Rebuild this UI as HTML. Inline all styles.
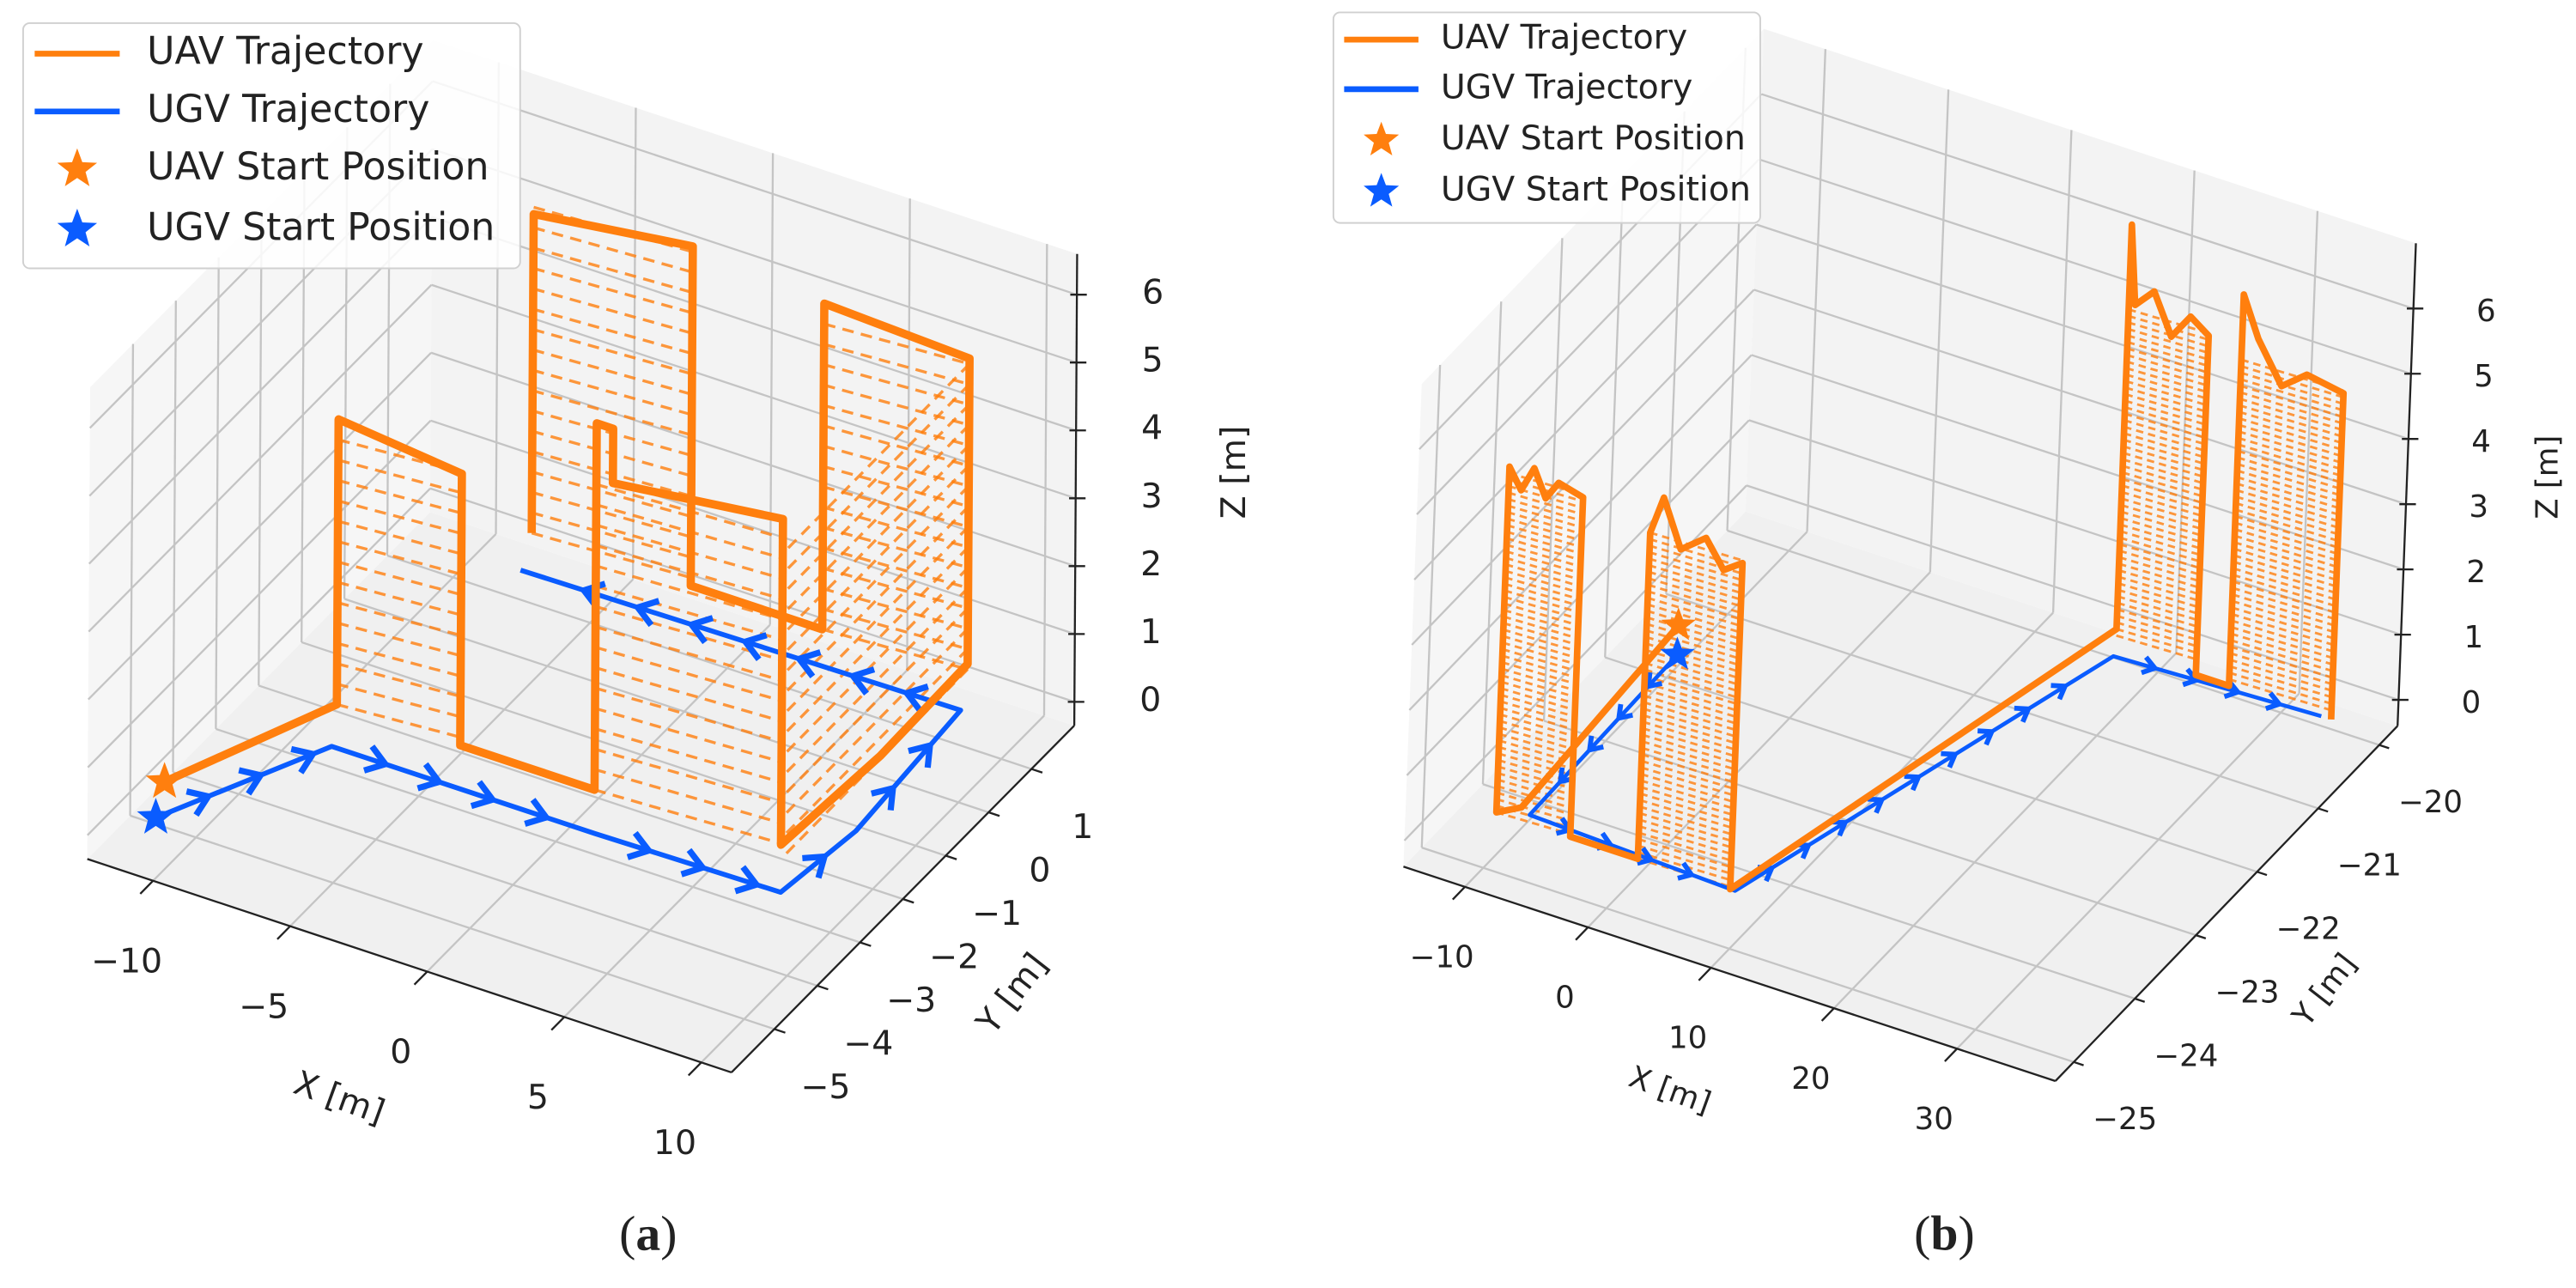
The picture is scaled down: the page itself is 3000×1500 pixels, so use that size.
<!DOCTYPE html>
<html><head><meta charset="utf-8">
<style>
html,body{margin:0;padding:0;background:#fff;}
body{width:3000px;height:1500px;overflow:hidden;position:relative;}
svg{position:absolute;top:0;}
text{font-family:"DejaVu Sans","Liberation Sans",sans-serif;fill:#222;}
</style></head>
<body>
<svg id="pa" style="left:0" width="1500" height="1500" viewBox="0 0 1560 1560" xmlns="http://www.w3.org/2000/svg"></svg>
<svg id="pb" style="left:1500px" width="1500" height="1500" viewBox="0 0 1560 1560" xmlns="http://www.w3.org/2000/svg"></svg>
<script>
// ---------- Panel A data ----------
const xTicksA = [-10, -5, 0, 5, 10];
const yTicksA = [-5, -4, -3, -2, -1, 0, 1];
const zTicksA = [0, 1, 2, 3, 4, 5, 6];
const ugvPathA = [[-11,-5.3,0],[-8.1,-3.05,0],[1.5,-3.05,0],[8.2,-3.0,0],[8.6,-1.5,0],[8.2,1.2,0],[-7.7,1.1,0]];
const uavPathA = [[-11,-5.1,0.4],[-8,-3,0.6],[-8,-3,4.8],[-3.5,-3,4.6],[-3.5,-3,0.6],[1.4,-3,0.6],[1.4,-3,6.0],[2.0,-3,6.0],[2.0,-3,5.2],[8.2,-3,5.5],[8.2,-3,0.7],[8.7,-1,0.8],[8.6,1.1,0.8],[8.6,1.1,5.3],[3.3,1.1,5.4],[3.3,1.1,0.6],[-1.5,1.1,0.6],[-1.5,1.1,5.6],[-7.3,1.1,5.3],[-7.3,1.1,0.6]];
const wallsA = [[-8,-3.5,-3,-3,0.6,4.7],[1.4,8.2,-3,-3,0.6,5.3],[3.3,8.6,1.1,1.1,0.6,5.3],[-7.3,-1.5,1.1,1.1,0.6,5.4],[8.4,8.6,-3,1.1,0.6,5.2]];
const uavStartA = [-11,-5.1,0.4];
const ugvStartA = [-11,-5.3,0];
// ---------- Panel B data ----------
const xTicksB = [-10, 0, 10, 20, 30];
const yTicksB = [-25, -24, -23, -22, -21, -20];
const zTicksB = [0, 1, 2, 3, 4, 5, 6];
const ugvPathB = [[-9.2,-22,0],[-8.8,-24.5,0],[8.4,-24.6,0],[17.8,-20.3,0],[34.2,-20.2,0]];
const uavPathB = [[-9.2,-22,0.45],[-9,-24.6,0.2],[-11,-24.6,0],[-11,-24.6,5.3],[-10,-24.6,5.0],[-9,-24.6,5.4],[-8,-24.6,5.0],[-7,-24.6,5.3],[-5,-24.6,5.2],[-5,-24.6,0],[0.5,-24.6,0],[0.5,-24.6,5.0],[1.5,-24.6,5.6],[3,-24.6,4.9],[5,-24.6,5.2],[6.5,-24.6,4.8],[8,-24.6,5.0],[8,-24.6,0],[17.5,-20.2,0.3],[17.5,-20.2,6.5],[18,-20.2,5.3],[19.5,-20.2,5.6],[21,-20.2,5.0],[22.5,-20.2,5.4],[24,-20.2,5.2],[24,-20.2,0],[26.7,-20.2,0],[26.7,-20.2,6.0],[28,-20.2,5.4],[30,-20.2,4.8],[32,-20.2,5.1],[35,-20.2,5.0],[35,-20.2,0]];
const wallsB = [[-11,-5,-24.6,-24.6,0,5.2],[0.5,8,-24.6,-24.6,0,5.0],[17.5,24,-20.2,-20.2,0.2,5.2],[26.7,35,-20.2,-20.2,0.1,5.0]];
const uavStartB = [-9.2,-22,0.45];
const ugvStartB = [-9.2,-22,0];

const NS = "http://www.w3.org/2000/svg";
function mk(svg, tag, attrs, name){
  const e = document.createElementNS(NS, tag);
  for (const k in attrs) e.setAttribute(k, attrs[k]);
  
  
  svg.appendChild(e); return e;
}
function starPts(cx, cy, r){
  let p=[];
  for(let i=0;i<10;i++){const a=-Math.PI/2+i*Math.PI/5;const rr=i%2?r*0.42:r;p.push((cx+rr*Math.cos(a)).toFixed(1)+','+(cy+rr*Math.sin(a)).toFixed(1));}
  return p.join(' ');
}
function drawPanel(svg, c){
  const P = (x,y,z)=>[c.o[0]+x*c.ex[0]+y*c.ey[0]+z*c.ez[0], c.o[1]+x*c.ex[1]+y*c.ey[1]+z*c.ez[1]];
  const [x0,x1]=c.xr,[y0,y1]=c.yr,[z0,z1]=c.zr;
  const poly=(pts)=>pts.map(p=>P(...p).map(v=>v.toFixed(1)).join(',')).join(' ');
  mk(svg,'polygon',{points:poly([[x0,y0,z0],[x1,y0,z0],[x1,y1,z0],[x0,y1,z0]]),fill:'#f0f0f0'},'floor-pane');
  mk(svg,'polygon',{points:poly([[x0,y0,z0],[x0,y1,z0],[x0,y1,z1],[x0,y0,z1]]),fill:'#f6f6f6'},'left-wall-pane');
  mk(svg,'polygon',{points:poly([[x0,y1,z0],[x1,y1,z0],[x1,y1,z1],[x0,y1,z1]]),fill:'#f3f3f3'},'back-wall-pane');
  const gl=(a,b,n)=>{const p=P(...a),q=P(...b);mk(svg,'line',{x1:p[0],y1:p[1],x2:q[0],y2:q[1],stroke:'#c4c4c4','stroke-width':2.4},n);};
  c.xt.forEach(t=>{gl([t,y0,z0],[t,y1,z0],'floor-grid-x');gl([t,y1,z0],[t,y1,z1],'back-grid-x');});
  c.yt.forEach(t=>{gl([x0,t,z0],[x1,t,z0],'floor-grid-y');gl([x0,t,z0],[x0,t,z1],'left-grid-y');});
  c.zt.forEach(t=>{gl([x0,y0,t],[x0,y1,t],'left-grid-z');gl([x0,y1,t],[x1,y1,t],'back-grid-z');});
  const ed=(a,b,n)=>{const p=P(...a),q=P(...b);mk(svg,'line',{x1:p[0],y1:p[1],x2:q[0],y2:q[1],stroke:'#222','stroke-width':2.4},n);};
  ed([x0,y0,z0],[x1,y0,z0],'x-axis-line');
  ed([x1,y0,z0],[x1,y1,z0],'y-axis-line');
  ed([x1,y1,z0],[x1,y1,z1],'z-axis-line');
  c.xt.forEach((t,i)=>{const p=P(t,y0,z0),q=P(t,y0-c.tl[0],z0);mk(svg,'line',{x1:p[0],y1:p[1],x2:q[0],y2:q[1],stroke:'#222','stroke-width':2.4},'x-tick');
    mk(svg,'text',{x:p[0]+c.xo[0],y:p[1]+c.xo[1],'font-size':c.fs,'text-anchor':'middle','dominant-baseline':'middle'},'x-tick-label').textContent=String(t).replace('-','\u2212');});
  c.yt.forEach(t=>{const p=P(x1,t,z0),q=P(x1+c.tl[1],t,z0);mk(svg,'line',{x1:p[0],y1:p[1],x2:q[0],y2:q[1],stroke:'#222','stroke-width':2.4},'y-tick');
    mk(svg,'text',{x:p[0]+c.yo[0],y:p[1]+c.yo[1],'font-size':c.fs,'text-anchor':'middle','dominant-baseline':'middle'},'y-tick-label').textContent=String(t).replace('-','\u2212');});
  c.zt.forEach(t=>{const p=P(x1,y1,t);mk(svg,'line',{x1:p[0]-8,y1:p[1],x2:p[0]+12,y2:p[1],stroke:'#222','stroke-width':2.4},'z-tick');
    mk(svg,'text',{x:p[0]+c.zo[0],y:p[1]+c.zo[1],'font-size':c.fs,'text-anchor':'middle','dominant-baseline':'middle'},'z-tick-label').textContent=String(t);});
  c.titles.forEach(([s,x,y,r,n])=>{mk(svg,'text',{x:x,y:y,'font-size':c.fs,'text-anchor':'middle','dominant-baseline':'middle',transform:`rotate(${r} ${x} ${y})`},n).textContent=s;});
  c.walls.forEach(w=>{
    for(let z=w[4]; z<=w[5]; z+=c.step){
      const p=P(w[0],w[2],z),q=P(w[1],w[3],z+c.step*0.4);
      mk(svg,'line',{x1:p[0],y1:p[1],x2:q[0],y2:q[1],stroke:'#ff7f0e','stroke-width':c.dw,'stroke-dasharray':c.dash,opacity:0.8},'uav-sweep-dash');
    }
  });
  mk(svg,'polyline',{points:poly(c.ugv),fill:'none',stroke:'#0a5cff','stroke-width':c.lw*0.6,'stroke-linejoin':'round'},'ugv-trajectory');
  for(let i=0;i<c.ugv.length-1;i++){
    const a=P(...c.ugv[i]),b=P(...c.ugv[i+1]);const dx=b[0]-a[0],dy=b[1]-a[1];const L=Math.hypot(dx,dy);const n=Math.floor(L/c.chev);
    const ux=dx/L,uy=dy/L;
    for(let k=1;k<=n;k++){const mx=a[0]+ux*k*c.chev*0.95,my=a[1]+uy*k*c.chev*0.95;const s=c.cs;
      mk(svg,'polyline',{points:`${mx-ux*s-uy*s*0.7},${my-uy*s+ux*s*0.7} ${mx},${my} ${mx-ux*s+uy*s*0.7},${my-uy*s-ux*s*0.7}`,fill:'none',stroke:'#0a5cff','stroke-width':c.lw*0.75},'ugv-direction-arrow');}
  }
  mk(svg,'polyline',{points:poly(c.uav),fill:'none',stroke:'#ff7f0e','stroke-width':c.lw,'stroke-linejoin':'round'},'uav-trajectory');
  const us=P(...c.uavStart),gs=P(...c.ugvStart);
  mk(svg,'polygon',{points:starPts(us[0],us[1],c.sr),fill:'#ff7f0e'},'uav-start-marker');
  mk(svg,'polygon',{points:starPts(gs[0],gs[1],c.sr),fill:'#0a5cff'},'ugv-start-marker');
  const L=c.leg;
  mk(svg,'rect',{x:L.x,y:L.y,width:L.w,height:L.h,rx:8,fill:'#fff','fill-opacity':0.85,stroke:'#d0d0d0','stroke-width':2},'legend-box');
  const labels=['UAV Trajectory','UGV Trajectory','UAV Start Position','UGV Start Position'];
  const cols=['#ff7f0e','#0a5cff','#ff7f0e','#0a5cff'];
  labels.forEach((s,i)=>{const y=L.rows[i];
    if(i<2) mk(svg,'line',{x1:L.l0,y1:y,x2:L.l1,y2:y,stroke:cols[i],'stroke-width':7},'legend-line');
    else mk(svg,'polygon',{points:starPts((L.l0+L.l1)/2,y,L.fs*0.55),fill:cols[i]},'legend-star');
    mk(svg,'text',{x:L.tx,y:y,'font-size':L.fs,'dominant-baseline':'middle'},'legend-entry').textContent=s;});
  const cap=mk(svg,'text',{x:c.cap[0],y:c.cap[1],'font-size':60,'text-anchor':'middle','dominant-baseline':'middle',style:'font-family:"Liberation Serif",serif'},'caption');
  cap.innerHTML='(<tspan font-weight="bold">'+c.capL+'</tspan>)';
}
drawPanel(document.getElementById('pa'),{
  o:[829,833],ex:[33.2,11],ey:[51.9,-52.5],ez:[0.5,-82.2],xr:[-12.4,11.1],yr:[-6,2],zr:[-0.35,6.6],
  xt:xTicksA,yt:yTicksA,zt:zTicksA,tl:[0.3,0.4],xo:[-32,100],yo:[62,73],zo:[92,0],fs:41,
  titles:[['X [m]',410,1332,20,'x-axis-title'],['Y [m]',1228,1205,-52,'y-axis-title'],['Z [m]',1497,572,-90,'z-axis-title']],
  walls:wallsA,step:0.3,dw:3.5,dash:'14 9',ugv:ugvPathA,uav:uavPathA,uavStart:uavStartA,ugvStart:ugvStartA,lw:10,chev:72,cs:22,sr:24,
  leg:{x:28,y:28,w:602,h:297,rows:[65,135,205,278],l0:42,l1:145,tx:178,fs:46},cap:[785,1500],capL:'a'});
drawPanel(document.getElementById('pb'),{
  o:[2236.7,-851.5],ex:[14.9,4.9],ey:[74,-76.8],ez:[3,-79],xr:[-15,38],yr:[-25.3,-19.7],zr:[-0.4,7],
  xt:xTicksB,yt:yTicksB,zt:zTicksB,tl:[0.2,0.8],xo:[-28,87],yo:[62,71],zo:[88,5],fs:37,
  titles:[['X [m]',462,1322,20,'x-axis-title'],['Y [m]',1257,1200,-52,'y-axis-title'],['Z [m]',1527,578,-90,'z-axis-title']],
  walls:wallsB,step:0.1,dw:3,dash:'9 6',ugv:ugvPathB,uav:uavPathB,uavStart:uavStartB,ugvStart:ugvStartB,lw:8,chev:55,cs:14,sr:22,
  leg:{x:55,y:15,w:517,h:255,rows:[48,108,170,232],l0:68,l1:158,tx:185,fs:41},cap:[795,1500],capL:'b'});
</script>
</body></html>
